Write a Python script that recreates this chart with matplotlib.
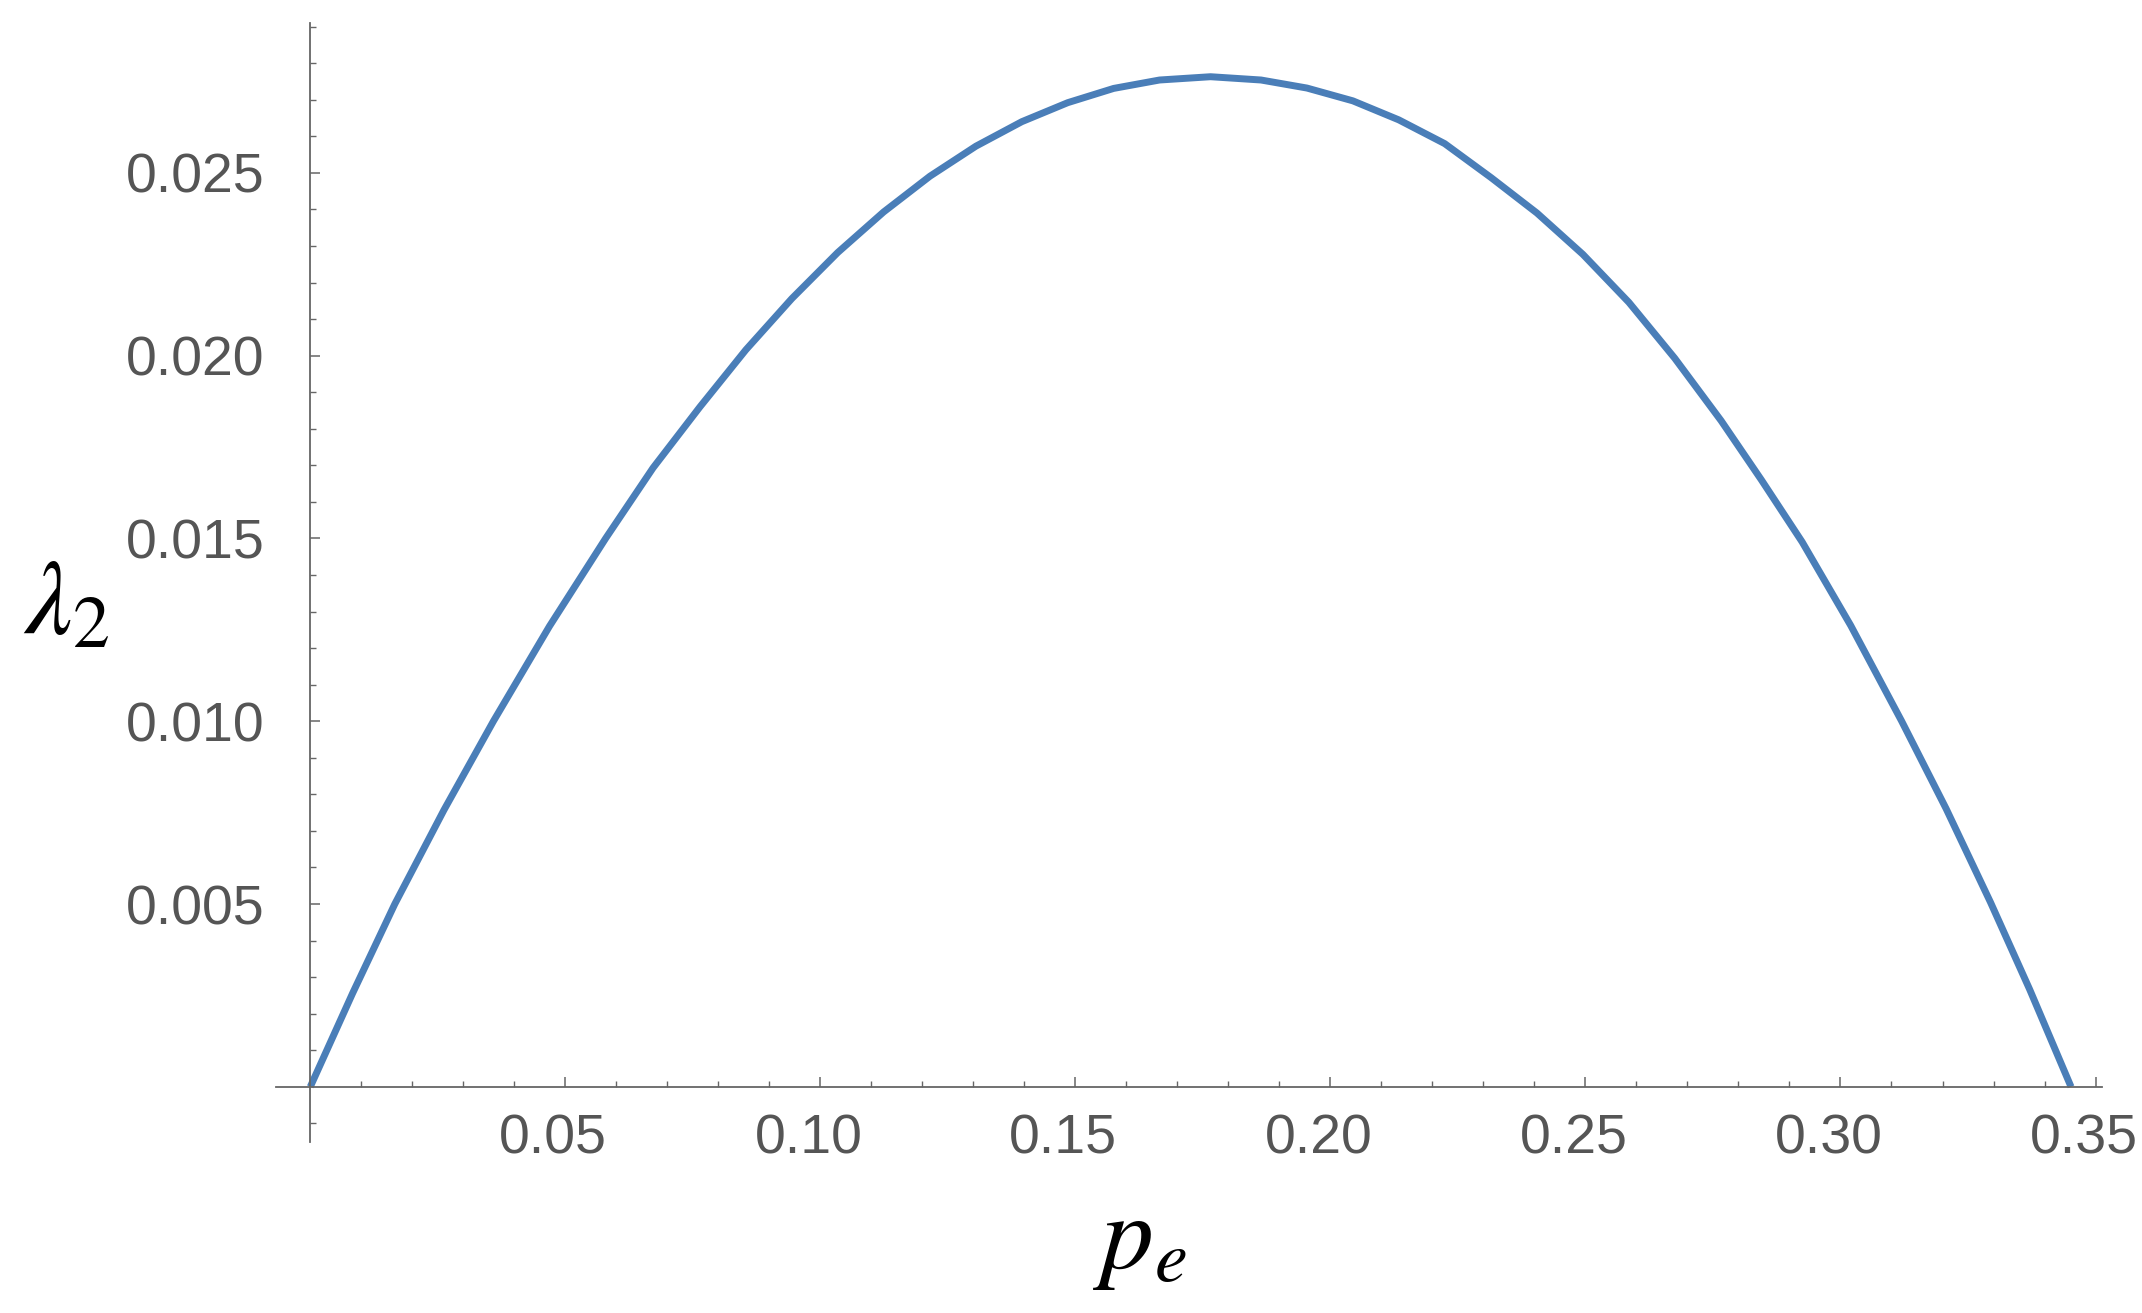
import matplotlib
matplotlib.use('Agg')
import matplotlib.pyplot as plt
import matplotlib.transforms as mtransforms

# values: p_e and lambda_2
p_e = [0.0, 0.0083, 0.01657, 0.0262, 0.0359, 0.0469, 0.0579, 0.0672, 0.0764,
       0.0854, 0.0944, 0.1034, 0.1124, 0.1215, 0.1305, 0.1395, 0.1485, 0.1575,
       0.1665, 0.1765, 0.1864, 0.1954, 0.2044, 0.2134, 0.2224, 0.2315, 0.2405,
       0.2495, 0.2585, 0.2675, 0.2766, 0.2845, 0.2925, 0.3020, 0.3120, 0.3207,
       0.3294, 0.3371, 0.3452]
lambda_2 = [0.0, 0.00256, 0.0050, 0.00757, 0.0100, 0.0126, 0.0150, 0.01693, 0.0186,
            0.02016, 0.02156, 0.02282, 0.02393, 0.02491, 0.02573, 0.0264, 0.02692, 0.02731,
            0.02754, 0.02763, 0.02754, 0.02732, 0.02697, 0.02645, 0.0258, 0.02487, 0.0239,
            0.02277, 0.02146, 0.01993, 0.01822, 0.0166, 0.0149, 0.01262, 0.0100, 0.00761,
            0.00505, 0.00266, 0.0]

x_major = [0.05, 0.10, 0.15, 0.20, 0.25, 0.30, 0.35]
x_labels = ['0.05', '0.10', '0.15', '0.20', '0.25', '0.30', '0.35']
y_major = [0.005, 0.010, 0.015, 0.020, 0.025]
y_labels = ['0.005', '0.010', '0.015', '0.020', '0.025']

LINE_COLOR = '#4a7eb8'
AXIS_COLOR = '#666666'
LABEL_COLOR = '#555555'
TICK_FONT = ['Liberation Sans Narrow', 'DejaVu Sans Condensed', 'Liberation Sans']


def main():
    plt.rcParams['mathtext.fontset'] = 'stix'

    fig = plt.figure(figsize=(21.42, 13.13), dpi=100)
    ax = fig.add_axes([0.1289, 0.1305, 0.8525, 0.852])

    ax.plot(p_e, lambda_2, color=LINE_COLOR, lw=5.0, solid_capstyle='butt',
            solid_joinstyle='round', clip_on=False)

    ax.set_xlim(-0.0067, 0.3513)
    ax.set_ylim(-0.0015, 0.0291)

    # mathematica style axes crossing at origin
    for side in ['top', 'right']:
        ax.spines[side].set_visible(False)
    ax.spines['left'].set_position(('data', 0))
    ax.spines['bottom'].set_position(('data', 0))
    for side in ['left', 'bottom']:
        ax.spines[side].set_color(AXIS_COLOR)
        ax.spines[side].set_linewidth(1.3)

    x_minor = [i / 100 for i in range(1, 36) if i % 5 != 0]
    y_minor = [i / 1000 for i in range(-1, 30) if i % 5 != 0 and i != 0]
    ax.set_xticks(x_major)
    ax.set_xticklabels(x_labels)
    ax.set_xticks(x_minor, minor=True)
    ax.set_yticks(y_major)
    ax.set_yticklabels(y_labels)
    ax.set_yticks(y_minor, minor=True)

    ax.tick_params(which='major', direction='in', length=7.5, width=1.1,
                   color=AXIS_COLOR, labelcolor=LABEL_COLOR, labelsize=40)
    ax.tick_params(which='minor', direction='in', length=4, width=1.0,
                   color=AXIS_COLOR)
    ax.tick_params(axis='x', which='major', pad=19)
    ax.tick_params(axis='y', which='major', pad=33)

    shift = mtransforms.ScaledTranslation(-12 / 100, 0, fig.dpi_scale_trans)
    for lab in ax.get_xticklabels():
        lab.set_family(TICK_FONT)
        lab.set_transform(lab.get_transform() + shift)
    for lab in ax.get_yticklabels():
        lab.set_family(TICK_FONT)

    fig.text(66 / 2142, 1 - 605 / 1313, r'$\lambda_2$', fontsize=76,
             ha='center', va='center', color='black')
    fig.text(1140 / 2142, 1 - 1241 / 1313, r'$p_e$', fontsize=76,
             ha='center', va='center', color='black')

    plt.savefig('out.png', dpi=100, facecolor='white')


if __name__ == '__main__': main()
